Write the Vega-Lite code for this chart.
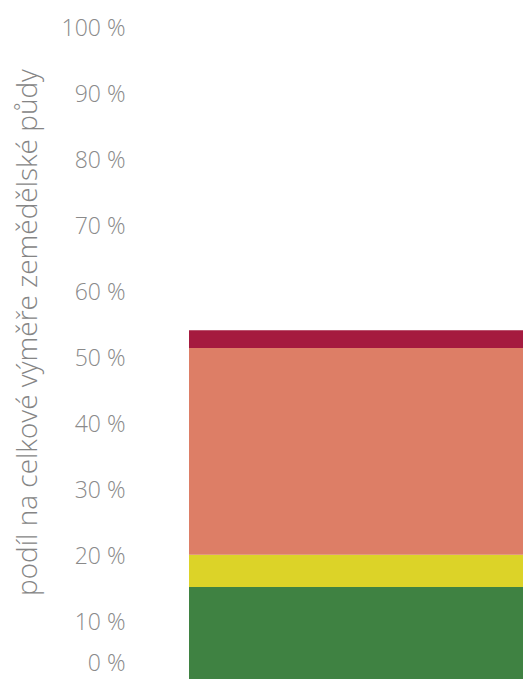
{
  "$schema": "https://vega.github.io/schema/vega-lite/v6.json",
  "autosize": {"type": "none"},
  "width": 334,
  "height": 660,
  "padding": {"left": 189, "top": 28, "right": 0, "bottom": 0},
  "background": "white",
  "config": {"view": {"stroke": null}},
  "data": {"values": [
    {"cat": "A", "kategorie": "zelená", "podil": 15.3, "poradi": 1},
    {"cat": "A", "kategorie": "žlutá", "podil": 4.9, "poradi": 2},
    {"cat": "A", "kategorie": "oranžová", "podil": 31.3, "poradi": 3},
    {"cat": "A", "kategorie": "červená", "podil": 2.7, "poradi": 4}
  ]},
  "mark": {"type": "bar"},
  "encoding": {
    "x": {"field": "cat", "type": "nominal", "axis": null, "scale": {"paddingInner": 0, "paddingOuter": 0}},
    "y": {
      "field": "podil", "type": "quantitative", "stack": "zero",
      "scale": {"domain": [0, 100], "nice": false},
      "axis": {
        "values": [0, 10, 20, 30, 40, 50, 60, 70, 80, 90, 100],
        "labelExpr": "datum.value + ' %'",
        "domain": false, "ticks": false, "grid": false,
        "labelPadding": 64,
        "labelFont": "Open Sans", "labelFontSize": 23, "labelFontWeight": 300, "labelColor": "#8a8a8a",
        "labelOverlap": false, "labelBound": false,
        "labelOffset": {"condition": {"test": "datum.value == 0", "value": -25}, "value": 0},
        "title": "podíl na celkové výměře zemědělské půdy",
        "titleFont": "Open Sans", "titleFontSize": 28, "titleFontWeight": 300, "titleColor": "#858585",
        "titleAngle": -90, "titleAlign": "center", "titleBaseline": "middle",
        "titleX": -161, "titleY": 304
      }
    },
    "color": {
      "field": "kategorie", "type": "nominal", "legend": null,
      "scale": {"domain": ["zelená", "žlutá", "oranžová", "červená"], "range": ["#3f8242", "#dcd328", "#dd7e66", "#a51a3f"]}
    },
    "order": {"field": "poradi", "type": "quantitative"}
  }
}
